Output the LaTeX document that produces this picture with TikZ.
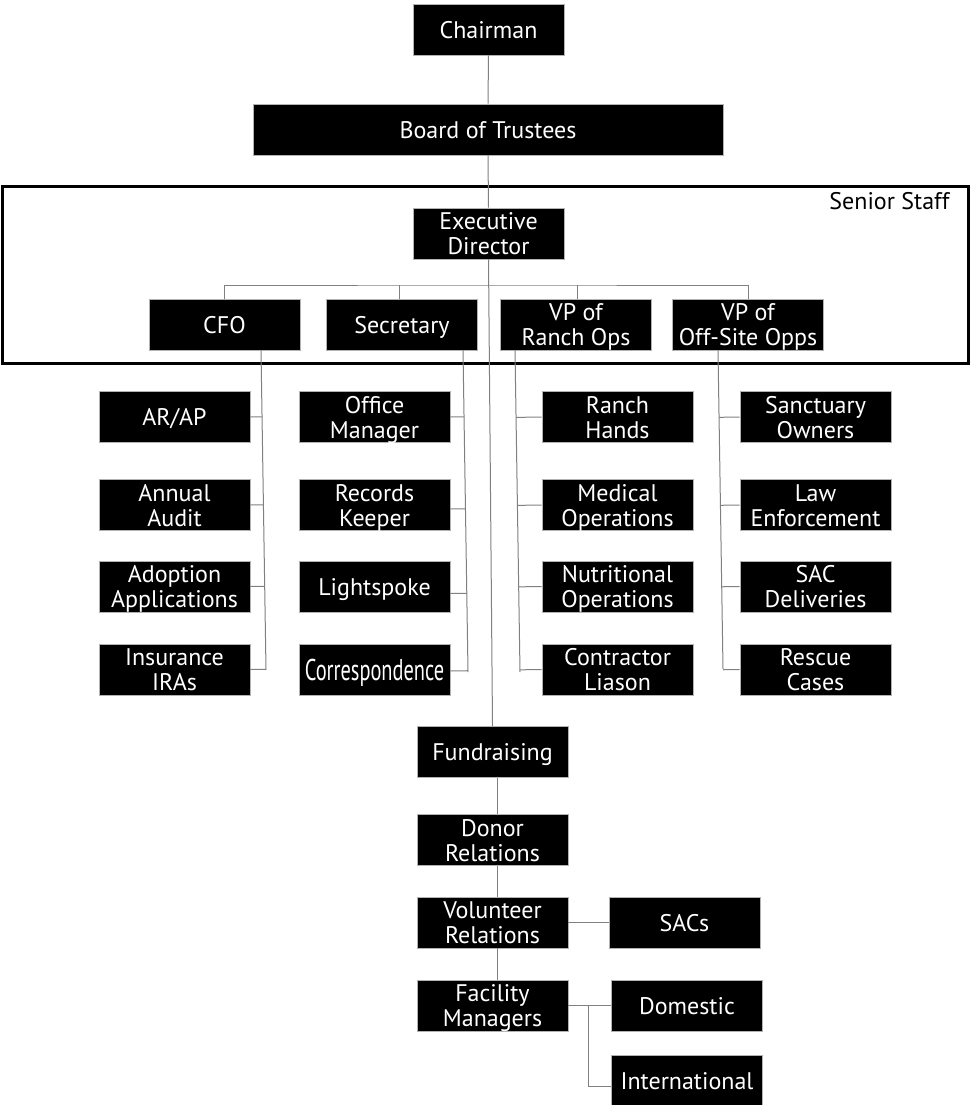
\documentclass[tikz,border=0pt]{standalone}
\usepackage{fontspec}
\usepackage{graphicx}
\setmainfont{PT Sans}
\usetikzlibrary{calc}
\definecolor{lineg}{RGB}{128,128,128}
\newcommand{\lbl}[1]{\raisebox{-10pt}[0pt][0pt]{\begin{tabular}{@{}c@{}}#1\end{tabular}}}
\begin{document}
\begin{tikzpicture}[x=1pt,y=-1pt,
  box/.style={fill=black,draw=gray!60,line width=0.8pt,text=white,
    minimum width=151pt,minimum height=51pt,inner sep=0pt,
    font=\fontsize{24}{25}\selectfont},
  conn/.style={draw=lineg,line width=1pt},
  frame/.style={draw=black,line width=3pt,minimum width=966pt,minimum height=177pt,inner sep=0pt}
]
\useasboundingbox (0,0) rectangle (970,1105);
\fill[white] (0,0) rectangle (970,1105);

% top chain
\node[box] (chair) at (488.5,29.5) {\lbl{Chairman}};
\node[box,minimum width=470pt] (board) at (488,129.5) {\lbl{Board of Trustees}};
\node[frame] (senior) at (485,274.5) {};
\node[anchor=base east,font=\fontsize{24}{25}\selectfont] (ss) at (953,209) {Senior Staff};
\node[box] (ed) at (488.5,233.5) {\lbl{Executive\\Director}};
\node[box] (cfo) at (224.5,324.5) {\lbl{CFO}};
\node[box] (sec) at (402,324.5) {\lbl{Secretary}};
\node[box] (vpr) at (576,324.5) {\lbl{VP of\\Ranch Ops}};
\node[box] (vpo) at (748,324.5) {\lbl{VP of\\Off-Site Opps}};

% CFO column
\node[box] (arap) at (174.5,417) {\lbl{AR/AP}};
\node[box] (audit) at (174.5,505) {\lbl{Annual\\Audit}};
\node[box] (adopt) at (174.5,586.5) {\lbl{Adoption\\Applications}};
\node[box] (ins) at (174.5,669.5) {\lbl{Insurance\\IRAs}};
% Secretary column
\node[box] (office) at (374.5,417) {\lbl{Office\\Manager}};
\node[box] (rec) at (374.5,505) {\lbl{Records\\Keeper}};
\node[box] (light) at (374.5,586.5) {\lbl{Lightspoke}};
\node[box] (corr) at (374.5,669.5) {\lbl{\fontsize{30}{30}\selectfont\scalebox{0.68}[1]{Correspondence}}};
% Ranch column
\node[box] (hands) at (617.5,417) {\lbl{Ranch\\Hands}};
\node[box] (med) at (617.5,505) {\lbl{Medical\\Operations}};
\node[box] (nutr) at (617.5,586.5) {\lbl{Nutritional\\Operations}};
\node[box] (contr) at (617.5,669.5) {\lbl{Contractor\\Liason}};
% Off-site column
\node[box] (sanct) at (815.5,417) {\lbl{Sanctuary\\Owners}};
\node[box] (law) at (815.5,505) {\lbl{Law\\Enforcement}};
\node[box] (sacdel) at (815.5,586.5) {\lbl{SAC\\Deliveries}};
\node[box] (rescue) at (815.5,669.5) {\lbl{Rescue\\Cases}};

% bottom chain
\node[box] (fund) at (492.5,752) {\lbl{Fundraising}};
\node[box] (donor) at (492.5,840) {\lbl{Donor\\Relations}};
\node[box] (vol) at (492.5,922.5) {\lbl{Volunteer\\Relations}};
\node[box] (fac) at (492.5,1005.5) {\lbl{Facility\\Managers}};
\node[box] (sacs) at (684.5,922.5) {\lbl{SACs}};
\node[box] (dom) at (687,1005.5) {\lbl{Domestic}};
\node[box] (intl) at (687,1080.5) {\lbl{International}};

% connectors
\draw[conn] (chair.south) -- (board.north);
\draw[conn] (board.south) -- (ed.north);
\draw[conn] (ed.south) -- (fund.north);
\coordinate (bus) at (488,285);
\draw[conn] (cfo.north) |- (bus) -| (vpo.north);
\draw[conn] ([xshift=-3pt]sec.north) -- ([xshift=-3pt]sec.north |- bus);
\draw[conn] ([xshift=1pt]vpr.north) -- ([xshift=1pt]vpr.north |- bus);

\coordinate (cfoT) at ([xshift=36.5pt]cfo.south);
\coordinate (cfoB) at (266,670);
\draw[conn] (cfoT) -- (cfoB);
\foreach \n in {arap,audit,adopt,ins}
  \draw[conn] (\n.east) -- ($(cfoT)!(\n.east)!(cfoB)$);

\coordinate (secT) at ([xshift=61pt]sec.south);
\coordinate (secB) at (468,672);
\draw[conn] (secT) -- (secB);
\draw[conn] (office.east) -- ($(secT)!(office.east)!(secB)$);
\draw[conn] ([yshift=-4pt]rec.east) -- ($(secT)!([yshift=-4pt]rec.east)!(secB)$);
\draw[conn] ([yshift=-7pt]light.east) -- ($(secT)!([yshift=-7pt]light.east)!(secB)$);
\draw[conn] ([yshift=-1.5pt]corr.east) -- ($(secT)!([yshift=-1.5pt]corr.east)!(secB)$);

\coordinate (vprT) at ([xshift=-61pt]vpr.south);
\coordinate (vprB) at (520,672);
\draw[conn] (vprT) -- (vprB);
\foreach \n in {hands,med,nutr,contr}
  \draw[conn] (\n.west) -- ($(vprT)!(\n.west)!(vprB)$);

\coordinate (vpoT) at ([xshift=-30pt]vpo.south);
\coordinate (vpoB) at (723,669);
\draw[conn] (vpoT) -- (vpoB);
\foreach \n in {sanct,law,sacdel,rescue}
  \draw[conn] (\n.west) -- ($(vpoT)!(\n.west)!(vpoB)$);

\draw[conn] ([xshift=4.5pt]fund.south) -- ([xshift=4.5pt]donor.north);
\draw[conn] ([xshift=4.5pt]donor.south) -- ([xshift=4.5pt]vol.north);
\draw[conn] ([xshift=4.5pt]vol.south) -- ([xshift=4.5pt]fac.north);
\draw[conn] (vol.east) -- (sacs.west);
\draw[conn] (fac.east) -- (dom.west);
\coordinate (fb) at ([xshift=20pt]fac.east);
\draw[conn] (fb) |- ([yshift=-6pt]intl.west);
\end{tikzpicture}
\end{document}
